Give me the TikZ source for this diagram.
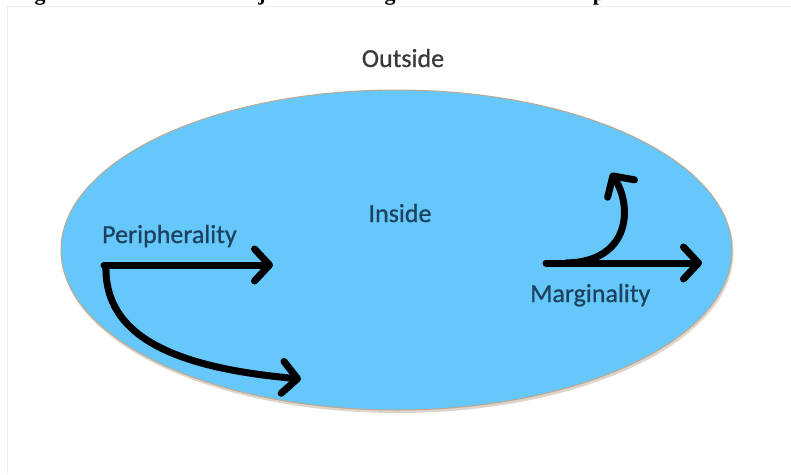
\documentclass[tikz,border=0pt]{standalone}
\usepackage{fontspec}
\setmainfont{Carlito}
\newfontfamily\labfont{Carlito}[FakeBold=0.7]
\newfontfamily\headfont{Liberation Serif}
\usetikzlibrary{arrows.meta}
\definecolor{skyfill}{RGB}{102,200,250}
\definecolor{rimcol}{RGB}{190,168,145}
\definecolor{shadowcol}{RGB}{222,212,202}
\definecolor{labblue}{RGB}{28,66,96}
\definecolor{outgray}{RGB}{58,58,58}
\definecolor{framegray}{RGB}{238,238,238}
\begin{document}
\begin{tikzpicture}[x=1pt,y=-1pt,
  lab/.style={font=\labfont\fontsize{26}{30}\selectfont, text=labblue, inner sep=0pt},
  headchar/.style={font=\headfont\bfseries\fontsize{22}{26}\selectfont, inner sep=0pt, anchor=base},
  bigarrow/.style={line width=7pt, line cap=round, line join=round,
    -{Straight Barb[length=15pt,width=32pt,round]}}]
\useasboundingbox (0,0) rectangle (791,474);
\fill[white] (0,0) rectangle (791,474);
\draw[framegray, line width=1pt] (7,474) |- (791,6);
% cut-off heading (only descenders visible)
\begin{scope}
  \clip (0,0) rectangle (791,5);
  \node[headchar] (h1) at (40,0.5) {g};
  \node[headchar] (h2) at (262,0.5) {j};
  \node[headchar] (h3) at (390,0.5) {g};
  \node[headchar] (h4) at (599,0.5) {p};
\end{scope}
% ellipse
\fill[shadowcol] (397.5,252.5) ellipse [x radius=336, y radius=160.5];
\filldraw[fill=skyfill, draw=rimcol, line width=1pt] (396.5,250) ellipse [x radius=335.5, y radius=160];
\node (ellipseC) at (396.5,250) {};
% labels
\node[lab, text=outgray, anchor=base] (outside) at (403,67) {Outside};
\node[lab, anchor=base] (inside) at (400,222) {Inside};
\node[lab, anchor=base west] (periph) at (102,243) {Peripherality};
\node[lab, anchor=base west] (margin) at (530,302) {Marginality};
% arrows
\coordinate (pL) at (104,265);
\coordinate (pLr) at (273,265);
\coordinate (pLc0) at (106,266);
\coordinate (pLc) at (301,379);
\coordinate (pR) at (546,263);
\coordinate (pRr) at (702,263);
\coordinate (pRc0) at (566,263);
\coordinate (pRu) at (611,173);
\draw[bigarrow] (pL) -- (pLr);
\draw[bigarrow] (pLc0) .. controls (104,338) and (178,368) .. (pLc);
\draw[bigarrow] (pR) -- (pRr);
\draw[bigarrow] (pRc0) .. controls (630,262) and (633,207) .. (pRu);
\end{tikzpicture}
\end{document}
